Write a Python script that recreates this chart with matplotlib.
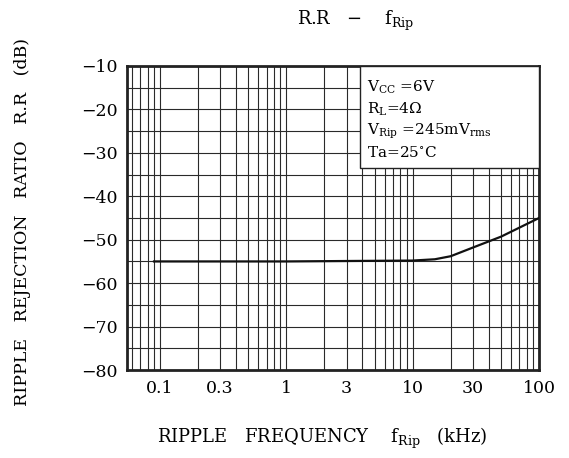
import matplotlib
matplotlib.use('agg')
import matplotlib.pyplot as plt
import matplotlib.ticker as plticker
from matplotlib.patches import Rectangle

# data
freq_khz = [0.09, 0.5, 1.0, 3.0, 10.0, 15.0, 20.0, 30.0, 50.0, 100.0]
rr_db = [-55.0, -55.0, -55.0, -54.9, -54.8, -54.5, -53.8, -51.8, -49.3, -45.0]
xtick_vals = [0.1, 0.3, 1, 3, 10, 30, 100]
xtick_labels = ["0.1", "0.3", "1", "3", "10", "30", "100"]
ytick_vals = [-80, -70, -60, -50, -40, -30, -20, -10]
cond_lines = [r"$\mathregular{V_{CC}}$ =6V",
              r"$\mathregular{R_L}$=4$\Omega$",
              r"$\mathregular{V_{Rip}}$ =245mV$\mathregular{_{rms}}$",
              r"Ta=25$^{\circ}$C"]

plt.rcParams['font.family'] = ['DejaVu Serif']
plt.rcParams['mathtext.fontset'] = 'dejavuserif'

fig = plt.figure(figsize=(5.69, 4.58), dpi=100)
ax = fig.add_axes([0.2232, 0.1921, 0.7241, 0.6638])

ax.set_xscale('log')
ax.set_xlim(0.055, 100)
ax.set_ylim(-80, -10)

# grid
ax.xaxis.set_major_locator(plticker.FixedLocator(xtick_vals))
ax.xaxis.set_major_formatter(plticker.FixedFormatter(xtick_labels))
ax.xaxis.set_minor_locator(plticker.LogLocator(base=10, subs=[1, 2, 3, 4, 5, 6, 7, 8, 9], numticks=20))
ax.xaxis.set_minor_formatter(plticker.NullFormatter())
ax.yaxis.set_major_locator(plticker.FixedLocator(ytick_vals))
ax.yaxis.set_minor_locator(plticker.MultipleLocator(5))
ax.grid(which='both', color='#2a2a2a', linewidth=0.8)
ax.tick_params(which='both', length=0, labelsize=12.5, pad=7)

for s in ax.spines.values():
    s.set_linewidth(2.0)
    s.set_color('#222222')

ax.plot(freq_khz, rr_db, color='#111111', linewidth=1.6, zorder=3)

# condition box
ax.add_patch(Rectangle((0.566, 0.664), 0.434, 0.336, transform=ax.transAxes,
                       facecolor='white', edgecolor='#222222', linewidth=1.0, zorder=4))
for i, t in enumerate(cond_lines):
    ax.text(0.583, 0.93 - i * 0.072, t, transform=ax.transAxes, fontsize=11,
            va='center', ha='left', zorder=5)

fig.text(0.625, 0.955, r"R.R   $-$    f$\mathregular{_{Rip}}$", fontsize=13, ha='center', va='center')
fig.text(0.566, 0.043, r"RIPPLE   FREQUENCY    f$\mathregular{_{Rip}}$   (kHz)", fontsize=13,
         ha='center', va='center')
fig.text(0.04, 0.515, "RIPPLE   REJECTION   RATIO   R.R   (dB)", fontsize=12.5, rotation=90,
         ha='center', va='center')

fig.savefig('out.png', dpi=100, facecolor='white')
plt.close(fig)
